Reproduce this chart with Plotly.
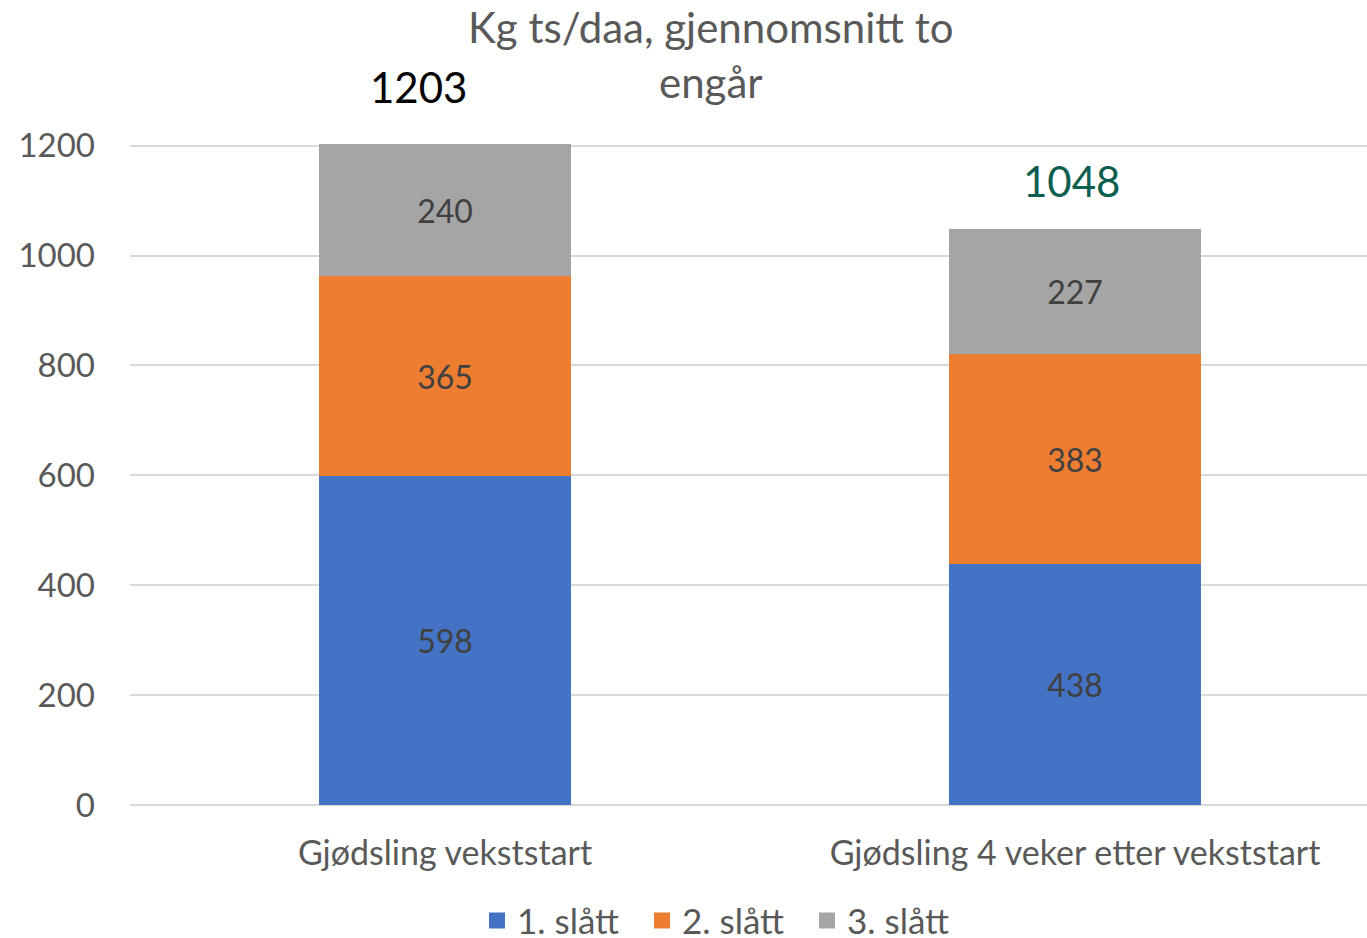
import plotly.graph_objects as go

categories = ["Gjødsling vekststart", "Gjødsling 4 veker etter vekststart"]
series_names = ["1. slått", "2. slått", "3. slått"]
slatt1 = [598, 438]
slatt2 = [365, 383]
slatt3 = [240, 227]
totals = [1203, 1048]
y_ticks = [0, 200, 400, 600, 800, 1000, 1200]
colors = ["#4472C4", "#ED7D31", "#A5A5A5"]
title_lines = ["Kg ts/daa, gjennomsnitt to", "engår"]
FONT = "Lato"

fig = go.Figure()
for name, vals, col in zip(series_names, [slatt1, slatt2, slatt3], colors):
    fig.add_trace(go.Bar(
        x=categories, y=vals, name=name, marker=dict(color=col, line=dict(width=0)),
        text=vals, texttemplate="%{text}", textposition="inside", insidetextanchor="middle",
        textfont=dict(family=FONT, size=32, color="#404040"), width=0.4, showlegend=False,
    ))
# legend entries with larger square symbols
for name, col in zip(series_names, colors):
    fig.add_trace(go.Scatter(
        x=[None], y=[None], mode="markers", name=name,
        marker=dict(symbol="square", size=19, color=col), showlegend=True,
    ))

fig.add_annotation(x=categories[0], y=totals[0], text=str(totals[0]), showarrow=False,
                   xshift=-27, yshift=57, yanchor="middle",
                   font=dict(family=FONT, size=42, color="#000000"))
fig.add_annotation(x=categories[1], y=totals[1], text=str(totals[1]), showarrow=False,
                   xshift=-4, yshift=48, yanchor="middle",
                   font=dict(family=FONT, size=42, color="#0E5E50"))

for line, ypx in zip(title_lines, [27, 82]):
    fig.add_annotation(xref="paper", yref="paper", x=(711 - 130) / 1237, y=(805 - ypx) / 661,
                       text=line, showarrow=False, xanchor="center", yanchor="middle",
                       font=dict(family=FONT, size=42, color="#595959"))

fig.update_layout(
    width=1367, height=938,
    margin=dict(l=130, r=0, t=144, b=133, autoexpand=False),
    barmode="stack", bargap=0,
    plot_bgcolor="white", paper_bgcolor="white",
    font=dict(family=FONT, color="#595959"),
    xaxis=dict(range=[-0.5, 1.4635], showgrid=False, showline=False, ticks="", automargin=False,
               tickfont=dict(family=FONT, size=34, color="#595959"), ticklabelstandoff=25),
    yaxis=dict(range=[0, 1203], tickvals=y_ticks, showgrid=True, gridcolor="#D9D9D9",
               gridwidth=1.5, zeroline=True, zerolinecolor="#D9D9D9", zerolinewidth=2,
               showline=False, ticks="", ticklabelstandoff=34, automargin=False,
               tickfont=dict(family=FONT, size=33, color="#595959")),
    legend=dict(orientation="h", xref="container", x=477 / 1367, xanchor="left",
                yref="container", y=0.0185, yanchor="middle",
                font=dict(family=FONT, size=35, color="#595959"), traceorder="normal",
                itemwidth=30, entrywidth=120, entrywidthmode="pixels", itemsizing="trace"),
    showlegend=True,
)
fig.write_html("out.html", config={"displayModeBar": False},
               post_script="document.body.style.margin='0';document.body.style.overflow='hidden';")
